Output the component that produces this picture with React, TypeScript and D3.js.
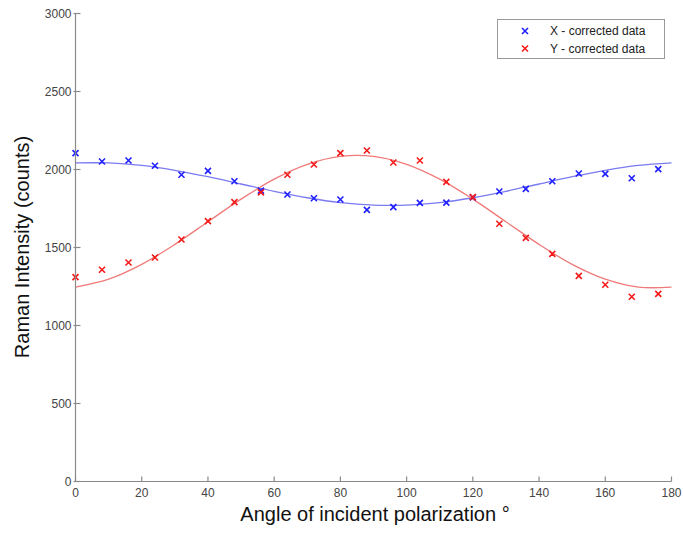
import React from 'react';
import * as d3 from 'd3';

// measured angles (deg)
const angles = [0, 8, 16, 24, 32, 40, 48, 56, 64, 72, 80, 88, 96, 104, 112, 120, 128, 136, 144, 152, 160, 168, 176];
const xCorrected = [2105, 2051, 2058, 2024, 1966, 1991, 1925, 1865, 1840, 1816, 1808, 1741, 1759, 1786, 1788, 1821, 1859, 1876, 1925, 1974, 1972, 1944, 2002];
const yCorrected = [1310, 1357, 1404, 1436, 1551, 1669, 1791, 1853, 1966, 2032, 2105, 2122, 2045, 2058, 1921, 1823, 1652, 1562, 1459, 1318, 1261, 1184, 1203];

const fitAngles = [0, 10, 20, 30, 40, 50, 60, 70, 80, 90, 100, 110, 120, 130, 140, 150, 160, 170, 180];
const xFit = [2042, 2042, 2026, 1995, 1954, 1907, 1860, 1819, 1788, 1772, 1772, 1788, 1819, 1860, 1907, 1954, 1995, 2026, 2042];
const yFit = [1246, 1297, 1392, 1520, 1665, 1810, 1938, 2033, 2084, 2084, 2033, 1938, 1810, 1665, 1520, 1392, 1297, 1246, 1246];

const xTicks = [0, 20, 40, 60, 80, 100, 120, 140, 160, 180];
const yTicks = [0, 500, 1000, 1500, 2000, 2500, 3000];

const legendLabels = ['X - corrected data', 'Y - corrected data'];
const colors = ['#1f1fff', '#f51a1a'];
const lineColors = ['#7a7af2', '#f07a7a'];

const W = 683;
const H = 533;
const font = '"Liberation Sans", Arial, Helvetica, sans-serif';

function Cross({ cx, cy, color }: { cx: number; cy: number; color: string }) {
  const s = 3;
  return (
    <path d={`M${cx - s},${cy - s}L${cx + s},${cy + s}M${cx - s},${cy + s}L${cx + s},${cy - s}`}
      stroke={color} strokeWidth={1.6} fill="none" />
  );
}

export default function App() {
  const x = d3.scaleLinear().domain([0, 180]).range([75.5, 671.5]);
  const y = d3.scaleLinear().domain([0, 3000]).range([481.5, 13.5]);

  const line = d3.line<[number, number]>()
    .x(d => x(d[0]))
    .y(d => y(d[1]))
    .curve(d3.curveCatmullRom.alpha(0.5));

  const series = [xCorrected, yCorrected];
  const fits = [xFit, yFit];

  return (
    <svg width={W} height={H} style={{ position: 'absolute', left: 0, top: 0 }} fontFamily={font}>
      <rect width={W} height={H} fill="#fff" />

      {fits.map((f, i) => (
        <path key={'fit' + i} d={line(fitAngles.map((a, j) => [a, f[j]] as [number, number])) || ''}
          fill="none" stroke={lineColors[i]} strokeWidth={1.3} />
      ))}

      {series.map((s, i) => (
        <g key={'s' + i}>
          {angles.map((a, j) => (
            <Cross key={j} cx={x(a)} cy={y(s[j])} color={colors[i]} />
          ))}
        </g>
      ))}

      {/* axes */}
      <g stroke="#8a8a8a" strokeWidth={1.2}>
        <line x1={x(0)} x2={x(0)} y1={y(3000)} y2={y(0)} />
        <line x1={x(0)} x2={x(180)} y1={y(0)} y2={y(0)} />
        {yTicks.map(t => (
          <line key={'yt' + t} x1={x(0) - 2} x2={x(0) + 5} y1={y(t)} y2={y(t)} />
        ))}
        {xTicks.map(t => (
          <line key={'xt' + t} x1={x(t)} x2={x(t)} y1={y(0)} y2={y(0) - 5} />
        ))}
      </g>

      <g fill="#444" fontSize={12}>
        {yTicks.map(t => (
          <text key={'yl' + t} x={x(0) - 4} y={y(t)} dy="0.35em" textAnchor="end">{t}</text>
        ))}
        {xTicks.map(t => (
          <text key={'xl' + t} x={x(t)} y={y(0) + 11} dy="0.35em" textAnchor="middle">{t}</text>
        ))}
      </g>

      <text x={375} y={521} textAnchor="middle" fontSize={20} fill="#111">
        Angle of incident polarization °
      </text>
      <text transform="translate(29,247) rotate(-90)" textAnchor="middle" fontSize={20} fill="#111">
        Raman Intensity (counts)
      </text>

      {/* legend */}
      <rect x={497.5} y={19.5} width={167} height={39} fill="#fff" stroke="#999" strokeWidth={1} />
      {legendLabels.map((l, i) => (
        <g key={'lg' + i}>
          <Cross cx={525} cy={31 + i * 17.5} color={colors[i]} />
          <text x={550} y={31 + i * 17.5} dy="0.35em" fontSize={12} fill="#222">{l}</text>
        </g>
      ))}
    </svg>
  );
}
